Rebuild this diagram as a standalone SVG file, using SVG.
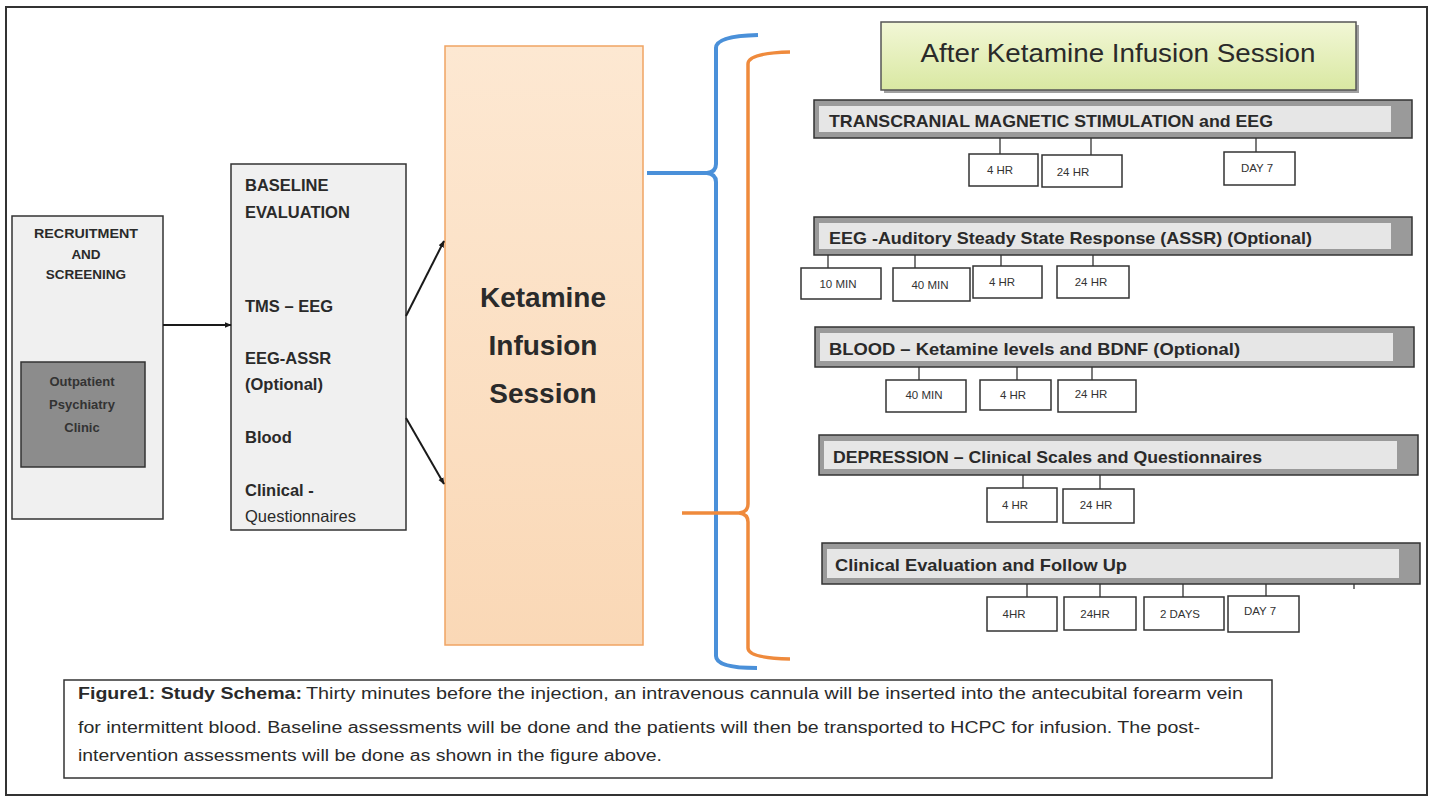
<svg xmlns="http://www.w3.org/2000/svg" width="1434" height="796" viewBox="0 0 1434 796">
<defs>
<style>
text{font-family:"Liberation Sans",Arial,sans-serif;fill:#2a2a2a}
.b{font-weight:bold}
.box{fill:#f0f0f0;stroke:#333;stroke-width:1.5}
.bar{fill:#9a9a9a;stroke:#333;stroke-width:1.5}
.barin{fill:#e6e6e6}
.bt{font-size:17px;font-weight:bold}
.tick{stroke:#333;stroke-width:1.3}
.tb{fill:#fff;stroke:#333;stroke-width:1.5}
.tt{font-size:11.5px;text-anchor:middle;fill:#333}
.bl{font-size:16.5px;font-weight:bold}
.cap{font-size:16px}
.conn{stroke:#1a1a1a;stroke-width:2;fill:none}
</style>
<marker id="ah" viewBox="0 0 10 10" refX="9" refY="5" markerWidth="7" markerHeight="7" orient="auto" markerUnits="userSpaceOnUse">
<path d="M0,1 L10,5 L0,9 z" fill="#1a1a1a"/>
</marker>
<linearGradient id="ket" x1="0" y1="0" x2="0" y2="1">
<stop offset="0" stop-color="#fde8d2"/>
<stop offset="1" stop-color="#fad8b6"/>
</linearGradient>
<linearGradient id="ttl" x1="0" y1="0" x2="0" y2="1">
<stop offset="0" stop-color="#f2f7d6"/>
<stop offset="1" stop-color="#d9e8a2"/>
</linearGradient>
</defs>
<rect width="1434" height="796" fill="#fff"/>
<rect x="6" y="7" width="1421" height="788" fill="none" stroke="#333" stroke-width="2"/>

<g id="recruitment">
<rect class="box" x="12" y="216" width="151" height="303"/>
<text class="b" font-size="13.5" text-anchor="middle" x="86" y="238" textLength="104" lengthAdjust="spacingAndGlyphs">RECRUITMENT</text>
<text class="b" font-size="13.5" text-anchor="middle" x="86" y="259">AND</text>
<text class="b" font-size="13.5" text-anchor="middle" x="86" y="279">SCREENING</text>
</g>
<g id="outpatient">
<rect x="21" y="362" width="124" height="105" fill="#8c8c8c" stroke="#333" stroke-width="1.5"/>
<text class="b" font-size="13" text-anchor="middle" x="82" y="386" style="fill:#333">Outpatient</text>
<text class="b" font-size="13" text-anchor="middle" x="82" y="409" style="fill:#333">Psychiatry</text>
<text class="b" font-size="13" text-anchor="middle" x="82" y="432" style="fill:#333">Clinic</text>
</g>

<g id="baseline">
<rect class="box" x="231" y="164" width="175" height="366"/>
<text class="bl" x="245" y="191">BASELINE</text>
<text class="bl" x="245" y="218">EVALUATION</text>
<text class="bl" x="245" y="312">TMS – EEG</text>
<text class="bl" x="245" y="364">EEG-ASSR</text>
<text class="bl" x="245" y="390">(Optional)</text>
<text class="bl" x="245" y="443">Blood</text>
<text class="bl" x="245" y="496">Clinical -</text>
<text font-size="16.5" x="245" y="522">Questionnaires</text>
</g>

<g id="ketamine">
<rect x="445" y="46" width="198" height="599" fill="url(#ket)" stroke="#f0a463" stroke-width="1.5"/>
<text class="b" font-size="28" text-anchor="middle" x="543" y="307">Ketamine</text>
<text class="b" font-size="28" text-anchor="middle" x="543" y="355">Infusion</text>
<text class="b" font-size="28" text-anchor="middle" x="543" y="403">Session</text>
</g>

<g id="connectors">
<line class="conn" x1="163" y1="325" x2="231" y2="325" marker-end="url(#ah)"/>
<line class="conn" x1="406" y1="316" x2="444" y2="241" marker-end="url(#ah)"/>
<line class="conn" x1="406" y1="418" x2="444" y2="484" marker-end="url(#ah)"/>
<path d="M758,35 Q716,36 716,48 L716,164 Q716,172 707,173 L647,173 M707,173 Q716,174 716,182 L716,656 Q716,668 757,668" fill="none" stroke="#4a90d9" stroke-width="4"/>
<path d="M790,52 Q748,53 748,64 L748,504 Q748,512 739,513 L682,513 M739,513 Q748,514 748,522 L748,648 Q748,658 790,659" fill="none" stroke="#ef8a3c" stroke-width="3.5"/>
</g>

<g id="title">
<rect x="884" y="25" width="475" height="68" fill="#a0a0a0"/>
<rect x="881" y="22" width="475" height="68" fill="url(#ttl)" stroke="#555" stroke-width="1.5"/>
<text font-size="25" text-anchor="middle" x="1118" y="62" textLength="395" lengthAdjust="spacingAndGlyphs">After Ketamine Infusion Session</text>
</g>

<g id="tms">
<rect class="bar" x="814" y="100" width="598" height="38"/>
<rect class="barin" x="819" y="106" width="572" height="26"/>
<text class="bt" x="829" y="127" textLength="444" lengthAdjust="spacingAndGlyphs">TRANSCRANIAL MAGNETIC STIMULATION and EEG</text>
<line class="tick" x1="1000" y1="138" x2="1000" y2="154"/>
<line class="tick" x1="1091" y1="138" x2="1091" y2="155"/>
<line class="tick" x1="1256" y1="138" x2="1256" y2="152"/>
<rect class="tb" x="969" y="154" width="69" height="32"/><text class="tt" x="1000" y="174">4 HR</text>
<rect class="tb" x="1042" y="155" width="80" height="32"/><text class="tt" x="1073" y="176">24 HR</text>
<rect class="tb" x="1224" y="152" width="71" height="33"/><text class="tt" x="1257" y="172">DAY 7</text>
</g>

<g id="assr">
<rect class="bar" x="814" y="217" width="598" height="38"/>
<rect class="barin" x="819" y="223" width="572" height="26"/>
<text class="bt" x="829" y="244" textLength="483" lengthAdjust="spacingAndGlyphs">EEG -Auditory Steady State Response (ASSR) (Optional)</text>
<line class="tick" x1="828" y1="255" x2="828" y2="268"/>
<line class="tick" x1="915" y1="255" x2="915" y2="268"/>
<line class="tick" x1="1001" y1="255" x2="1001" y2="266"/>
<line class="tick" x1="1093" y1="255" x2="1093" y2="266"/>
<rect class="tb" x="801" y="268" width="80" height="31"/><text class="tt" x="838" y="288">10 MIN</text>
<rect class="tb" x="893" y="268" width="77" height="33"/><text class="tt" x="930" y="289">40 MIN</text>
<rect class="tb" x="973" y="266" width="69" height="32"/><text class="tt" x="1002" y="286">4 HR</text>
<rect class="tb" x="1057" y="266" width="72" height="32"/><text class="tt" x="1091" y="286">24 HR</text>
</g>

<g id="blood">
<rect class="bar" x="815" y="327" width="599" height="40"/>
<rect class="barin" x="820" y="333" width="573" height="28"/>
<text class="bt" x="829" y="355" textLength="411" lengthAdjust="spacingAndGlyphs">BLOOD – Ketamine levels and BDNF (Optional)</text>
<line class="tick" x1="919" y1="367" x2="919" y2="380"/>
<line class="tick" x1="1017" y1="367" x2="1017" y2="380"/>
<line class="tick" x1="1092" y1="367" x2="1092" y2="380"/>
<rect class="tb" x="886" y="380" width="80" height="32"/><text class="tt" x="924" y="399">40 MIN</text>
<rect class="tb" x="980" y="380" width="71" height="30"/><text class="tt" x="1013" y="399">4 HR</text>
<rect class="tb" x="1058" y="380" width="78" height="32"/><text class="tt" x="1091" y="398">24 HR</text>
</g>

<g id="depression">
<rect class="bar" x="819" y="435" width="599" height="40"/>
<rect class="barin" x="824" y="441" width="573" height="28"/>
<text class="bt" x="833" y="463" textLength="429" lengthAdjust="spacingAndGlyphs">DEPRESSION – Clinical Scales and Questionnaires</text>
<line class="tick" x1="1023" y1="475" x2="1023" y2="488"/>
<line class="tick" x1="1100" y1="475" x2="1100" y2="489"/>
<rect class="tb" x="987" y="488" width="70" height="34"/><text class="tt" x="1015" y="509">4 HR</text>
<rect class="tb" x="1063" y="489" width="71" height="34"/><text class="tt" x="1096" y="509">24 HR</text>
</g>

<g id="followup">
<rect class="bar" x="822" y="543" width="598" height="41"/>
<rect class="barin" x="827" y="549" width="572" height="29"/>
<text class="bt" x="835" y="571" textLength="292" lengthAdjust="spacingAndGlyphs">Clinical Evaluation and Follow Up</text>
<line class="tick" x1="1027" y1="584" x2="1027" y2="597"/>
<line class="tick" x1="1100" y1="584" x2="1100" y2="597"/>
<line class="tick" x1="1183" y1="584" x2="1183" y2="597"/>
<line class="tick" x1="1266" y1="584" x2="1266" y2="596"/>
<line class="tick" x1="1354" y1="584" x2="1354" y2="589"/>
<rect class="tb" x="987" y="597" width="70" height="34"/><text class="tt" x="1014" y="618">4HR</text>
<rect class="tb" x="1064" y="597" width="72" height="33"/><text class="tt" x="1095" y="618">24HR</text>
<rect class="tb" x="1144" y="597" width="80" height="33"/><text class="tt" x="1180" y="618">2 DAYS</text>
<rect class="tb" x="1228" y="596" width="71" height="36"/><text class="tt" x="1260" y="615">DAY 7</text>
</g>

<g id="caption">
<rect x="64" y="680" width="1208" height="98" fill="#fff" stroke="#333" stroke-width="1.5"/>
<text class="cap" y="699"><tspan x="78" font-weight="bold" textLength="224" lengthAdjust="spacingAndGlyphs">Figure1: Study Schema:</tspan><tspan x="306" textLength="937" lengthAdjust="spacingAndGlyphs">Thirty minutes before the injection, an intravenous cannula will be inserted into the antecubital forearm vein</tspan></text>
<text class="cap" x="78" y="733" textLength="1122" lengthAdjust="spacingAndGlyphs">for intermittent blood. Baseline assessments will be done and the patients will then be transported to HCPC for infusion. The post-</text>
<text class="cap" x="78" y="761" textLength="584" lengthAdjust="spacingAndGlyphs">intervention assessments will be done as shown in the figure above.</text>
</g>
</svg>
